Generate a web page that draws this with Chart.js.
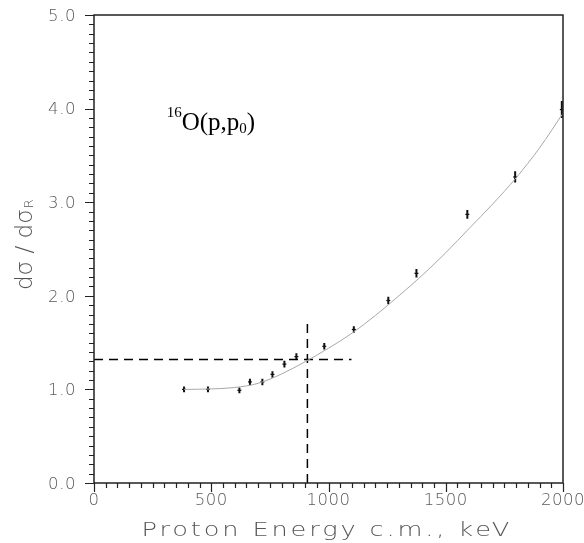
<!DOCTYPE html>
<html>
<head>
<meta charset="utf-8">
<title>16O(p,p0)</title>
<script src="https://cdn.jsdelivr.net/npm/chart.js@4.4.1/dist/chart.umd.min.js"></script>
<style>
  html, body { margin: 0; padding: 0; background: #fff; }
  #wrap { width: 584px; height: 543px; }
</style>
</head>
<body>
<div id="wrap"><canvas id="myChart" width="584" height="543"></canvas></div>
<script>
// Mesures : rapport dσ/dσR en fonction de l'énergie (keV, c.m.)
var energies = [384, 486, 620, 665, 718, 761, 812, 863, 982, 1108, 1255, 1375, 1592, 1796, 1995];
var ratios = [1.00, 1.00, 0.99, 1.08, 1.08, 1.16, 1.27, 1.35, 1.46, 1.64, 1.95, 2.24, 2.87, 3.27, 3.99];
var errors = [0.03, 0.03, 0.03, 0.035, 0.035, 0.035, 0.035, 0.035, 0.035, 0.035, 0.04, 0.045, 0.047, 0.06, 0.09];

// Courbe d'ajustement
var fitEnergies = [384, 500, 600, 700, 800, 900, 1000, 1100, 1200, 1300, 1400, 1500, 1600, 1700, 1800, 1900, 2000];
var fitRatios = [1.00, 1.005, 1.02, 1.065, 1.165, 1.295, 1.44, 1.60, 1.79, 2.00, 2.22, 2.46, 2.72, 2.98, 3.26, 3.58, 3.95];

// Lignes pointillées de repère
var markEnergy = 910;
var markRatio = 1.32;
var markEnergyEnd = 1098;
var markRatioTop = 1.73;

// Graduations
var xTickLabels = ["0", "500", "1000", "1500", "2000"];
var yTickLabels = ["0.0", "1.0", "2.0", "3.0", "4.0", "5.0"];
var xTicks = { min: 0, max: 2000, step: 500, minor: 50 };
var yTicks = { min: 0, max: 5, step: 1, minor: 0.1 };

var pointsData = energies.map(function (e, i) {
  return { x: e, y: ratios[i] };
});

// Barres d'erreur : un segment par point, séparés par des trous (y: null)
var errorBarData = [];
energies.forEach(function (e, i) {
  errorBarData.push({ x: e, y: ratios[i] - errors[i] });
  errorBarData.push({ x: e, y: ratios[i] + errors[i] });
  errorBarData.push({ x: e, y: null });
});

var fitData = fitEnergies.map(function (e, i) {
  return { x: e, y: fitRatios[i] };
});

var hLineData = [{ x: xTicks.min, y: markRatio }, { x: markEnergyEnd, y: markRatio }];
var vLineData = [{ x: markEnergy, y: yTicks.min }, { x: markEnergy, y: markRatioTop }];

var labelColor = "#5a5a5a";

// texte élargi horizontalement (les polices du tracé d'origine sont larges)
function wideText(ctx, text, x, y, stretch, spacing) {
  ctx.save();
  ctx.translate(x, y);
  ctx.scale(stretch, 1);
  ctx.letterSpacing = spacing + "px";
  ctx.fillText(text, 0, 0);
  ctx.restore();
}

function wideWidth(ctx, text, stretch, spacing) {
  ctx.save();
  ctx.letterSpacing = spacing + "px";
  var w = ctx.measureText(text).width * stretch;
  ctx.restore();
  return w;
}

// Cadre, graduations, étiquettes, titres des axes et annotation
var decorPlugin = {
  id: "decor",
  afterDraw: function (chart) {
    var ctx = chart.ctx;
    var a = chart.chartArea;
    var xs = chart.scales.x;
    var ys = chart.scales.y;

    ctx.save();
    ctx.strokeStyle = "#222";
    ctx.lineWidth = 1.5;
    ctx.strokeRect(a.left, a.top, a.right - a.left, a.bottom - a.top);

    // graduations de l'axe y (vers l'extérieur)
    ctx.lineWidth = 1.2;
    ctx.beginPath();
    var n = Math.round((yTicks.max - yTicks.min) / yTicks.minor);
    for (var i = 0; i <= n; i++) {
      var v = yTicks.min + i * yTicks.minor;
      var py = Math.round(ys.getPixelForValue(v)) + 0.5;
      var len = i % 10 === 0 ? 9 : 5;
      ctx.moveTo(a.left - len, py);
      ctx.lineTo(a.left, py);
    }
    // graduations de l'axe x
    n = Math.round((xTicks.max - xTicks.min) / xTicks.minor);
    for (i = 0; i <= n; i++) {
      var px = Math.round(xs.getPixelForValue(xTicks.min + i * xTicks.minor)) + 0.5;
      len = i % 10 === 0 ? 9 : 5;
      ctx.moveTo(px, a.bottom);
      ctx.lineTo(px, a.bottom + len);
    }
    ctx.stroke();

    // étiquettes des graduations
    ctx.fillStyle = labelColor;
    ctx.font = "200 15px 'DejaVu Sans'";
    ctx.textBaseline = "middle";
    ctx.textAlign = "left";
    yTickLabels.forEach(function (lab, k) {
      var yy = ys.getPixelForValue(yTicks.min + k * yTicks.step) + 2;
      var w = wideWidth(ctx, lab, 1.1, 0.5);
      wideText(ctx, lab, 76 - w, yy, 1.1, 0.5);
    });
    xTickLabels.forEach(function (lab, k) {
      var xx = xs.getPixelForValue(xTicks.min + k * xTicks.step);
      var w = wideWidth(ctx, lab, 1.1, 0.5);
      wideText(ctx, lab, xx - w / 2, 501, 1.1, 0.5);
    });

    // titre de l'axe x
    var xTitle = "Proton Energy c.m., keV";
    ctx.fillStyle = "#555";
    ctx.font = "200 19px 'DejaVu Sans'";
    ctx.textBaseline = "alphabetic";
    var stretch = 1.35;
    var target = 368;
    var nat = wideWidth(ctx, xTitle, stretch, 0);
    var spacing = (target - nat) / (xTitle.length - 1) / stretch;
    var cx = (a.left + a.right) / 2 - 3;
    wideText(ctx, xTitle, cx - target / 2, 536, stretch, spacing.toFixed(2));

    // titre de l'axe y : dσ / dσ_R
    ctx.save();
    ctx.translate(32, 290);
    ctx.rotate(-Math.PI / 2);
    ctx.font = "200 23px 'DejaVu Sans'";
    var main = "d\u03c3 / d\u03c3";
    ctx.fillText(main, 0, 0);
    var mw = ctx.measureText(main).width;
    ctx.font = "200 13px 'DejaVu Sans'";
    ctx.fillText("R", mw + 1, 1);
    ctx.restore();

    // annotation de la réaction
    var ax = xs.getPixelForValue(310);
    var ay = ys.getPixelForValue(3.77);
    ctx.fillStyle = "#000";
    ctx.font = "15px 'Liberation Serif'";
    ctx.fillText("16", ax, ay - 13);
    var sw = ctx.measureText("16").width;
    ctx.font = "25px 'Liberation Serif'";
    var t1 = "O(p,p";
    ctx.fillText(t1, ax + sw, ay);
    var w1 = ctx.measureText(t1).width;
    ctx.font = "15px 'Liberation Serif'";
    ctx.fillText("0", ax + sw + w1, ay + 3);
    var w2 = ctx.measureText("0").width;
    ctx.font = "25px 'Liberation Serif'";
    ctx.fillText(")", ax + sw + w1 + w2, ay);

    ctx.restore();
  },
};

var ctx = document.getElementById("myChart").getContext("2d");
var myChart = new Chart(ctx, {
  type: "scatter",
  data: {
    datasets: [
      {
        label: "fit",
        data: fitData,
        showLine: true,
        borderColor: "#a8a8a8",
        borderWidth: 1,
        pointRadius: 0,
        cubicInterpolationMode: "monotone",
      },
      {
        label: "horizontal",
        data: hLineData,
        showLine: true,
        borderColor: "#000",
        borderWidth: 1.5,
        borderDash: [9, 6],
        pointRadius: 0,
      },
      {
        label: "vertical",
        data: vLineData,
        showLine: true,
        borderColor: "#000",
        borderWidth: 1.5,
        borderDash: [9, 6],
        pointRadius: 0,
      },
      {
        label: "errors",
        data: errorBarData,
        showLine: true,
        spanGaps: false,
        borderColor: "#111",
        borderWidth: 2,
        pointRadius: 0,
      },
      {
        label: "points",
        data: pointsData,
        showLine: false,
        pointStyle: "line",
        pointRadius: 2,
        borderColor: "#111",
        borderWidth: 1.2,
      },
    ],
  },
  options: {
    responsive: false,
    animation: false,
    devicePixelRatio: 1,
    layout: { padding: { top: 15, right: 21, left: 0, bottom: 0 } },
    scales: {
      x: {
        type: "linear",
        min: xTicks.min,
        max: xTicks.max,
        grid: { display: false },
        border: { display: false },
        ticks: { display: false, stepSize: xTicks.step },
        afterFit: function (scale) {
          scale.height = 60;
        },
      },
      y: {
        type: "linear",
        min: yTicks.min,
        max: yTicks.max,
        grid: { display: false },
        border: { display: false },
        ticks: { display: false, stepSize: yTicks.step },
        afterFit: function (scale) {
          scale.width = 94;
        },
      },
    },
    plugins: {
      legend: { display: false },
      tooltip: { enabled: false },
    },
  },
  plugins: [decorPlugin],
});
</script>
</body>
</html>
